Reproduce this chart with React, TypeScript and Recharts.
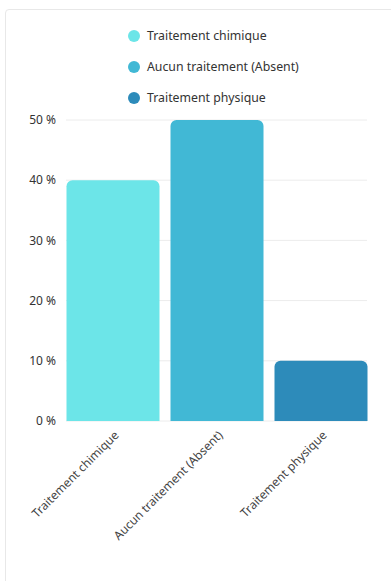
import { BarChart, Bar, XAxis, YAxis, CartesianGrid, Legend, Cell } from 'recharts';

const categories = ['Traitement chimique', 'Aucun traitement (Absent)', 'Traitement physique'];
const percentages = [40, 50, 10];
const colors = ['#6ce5e8', '#41b8d5', '#2d8bba'];
const yTicks = [0, 10, 20, 30, 40, 50];

const data = categories.map((name, i) => ({ name, value: percentages[i], color: colors[i] }));

const FONT = '"Noto Sans", sans-serif';

function LegendList() {
  return (
    <div style={{ width: 391, height: 100, paddingLeft: 128, boxSizing: 'border-box', fontFamily: FONT }}>
      {categories.map((name, i) => (
        <div key={name} style={{ height: 31, display: 'flex', alignItems: 'center', gap: 7 }}>
          <span style={{ width: 12, height: 12, borderRadius: '50%', background: colors[i], display: 'inline-block' }} />
          <span style={{ fontSize: 12.3, color: '#333' }}>{name}</span>
        </div>
      ))}
    </div>
  );
}

// eslint-disable-next-line @typescript-eslint/no-explicit-any
function AngledTick({ x, y, payload }: any) {
  return (
    <g transform={`translate(${x + 4},${y + 4})`}>
      <text x={0} y={0} dy="0.35em" textAnchor="end" transform="rotate(-45)" fill="#444" fontSize={12} fontFamily={FONT}>
        {payload.value}
      </text>
    </g>
  );
}

export default function App() {
  return (
    <>
      <style>{'body{margin:0;overflow:hidden}'}</style>
      <div style={{ position: 'absolute', left: 5, top: 9, width: 400, height: 600, border: '1px solid #e8e8e8', borderRadius: 4 }} />
      <div style={{ position: 'absolute', left: 0, top: 0 }}>
        <BarChart width={391} height={581} data={data} margin={{ top: 20, right: 24, left: 0, bottom: 0 }} barSize={93}>
          <CartesianGrid vertical={false} stroke="#ececec" />
          <XAxis
            dataKey="name"
            padding={{ left: -5.5, right: -5.5 }}
            axisLine={false}
            tickLine={false}
            tick={<AngledTick />}
            interval={0}
            height={160}
          />
          <YAxis
            width={66}
            domain={[0, 50]}
            ticks={yTicks}
            tickFormatter={(v) => `${v} %`}
            axisLine={false}
            tickLine={false}
            tickMargin={4}
            tick={{ fill: '#333', fontSize: 12, fontFamily: FONT }}
          />
          <Legend verticalAlign="top" align="left" wrapperStyle={{ left: 0, top: 20 }} content={<LegendList />} />
          <Bar dataKey="value" radius={[6, 6, 0, 0]} isAnimationActive={false}>
            {data.map((d) => (
              <Cell key={d.name} fill={d.color} />
            ))}
          </Bar>
        </BarChart>
      </div>
    </>
  );
}
